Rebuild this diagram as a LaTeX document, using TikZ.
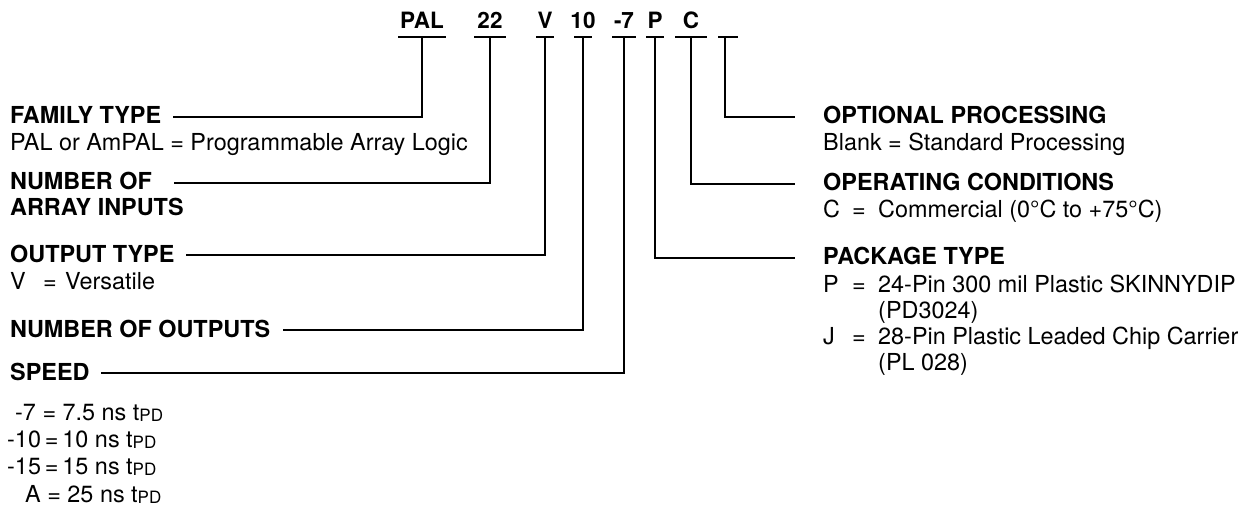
\documentclass[tikz,border=0pt]{standalone}
\usepackage{fontspec}
\setmainfont{TeX Gyre Heros}
\newcommand{\tpd}{t\raisebox{-1.5pt}{\fontsize{17}{17}\selectfont PD}}

\begin{document}
\begin{tikzpicture}[x=1pt,y=-1pt,
  code/.style={font=\fontsize{22.5}{24}\selectfont\bfseries,anchor=base,inner sep=0pt},
  head/.style={font=\fontsize{23.4}{26}\selectfont\bfseries,anchor=base west,inner sep=0pt},
  desc/.style={font=\fontsize{23.4}{26}\selectfont,anchor=base west,inner sep=0pt},
  wire/.style={line width=2.9pt}]
\useasboundingbox (0,0) rectangle (1245,513);

% part number and its bars
\foreach \id/\txt/\x/\w in {pal/PAL/422/24,ins/22/490/16,vt/V/545/9,outs/10/583/9,spd/-7/624/12,pkg/P/655/9,opc/C/691/16}{
  \node[code] (\id) at (\x,29) {\txt};
  \coordinate (\id bar) at (\x,37);
  \draw[wire] ([xshift=-\w pt]\id bar) -- ([xshift=\w pt]\id bar);
}
\coordinate (blankbar) at (725,37);
\draw[wire] (718,37) -- (738,37);

% left labels
\node[head] (family) at (10,124) {FAMILY TYPE};
\node[desc] (familyval) at (10,151) {PAL or AmPAL = Programmable Array Logic};
\node[head] (arrin) at (10,190) {NUMBER OF};
\node[head] (arrin2) at (10,216) {ARRAY INPUTS};
\node[head] (outtype) at (10,262) {OUTPUT TYPE};
\node[desc] (outtypeval) at (10,289) {\makebox[33pt][l]{V}\makebox[22pt][l]{=}Versatile};
\node[head] (numout) at (10,337) {NUMBER OF OUTPUTS};
\node[head] (speed) at (10,380) {SPEED};
\node[desc] (speed7) at (15,420) {-7 = 7.5 ns \tpd};
\node[desc] (speed10) at (7,447) {-10\,=\,10 ns \tpd};
\node[desc] (speed15) at (7,474) {-15\,=\,15 ns \tpd};
\node[desc] (speeda) at (25,502) {A = 25 ns \tpd};

% right labels
\node[head] (optproc) at (823,124) {OPTIONAL PROCESSING};
\node[desc] (optprocval) at (823,151) {Blank = Standard Processing};
\node[head] (opcond) at (823,191) {OPERATING CONDITIONS};
\node[desc] (opcondval) at (823,218) {\makebox[29pt][l]{C}\makebox[26pt][l]{=}Commercial (0°C to +75°C)};
\node[head] (pkgtype) at (823,265) {PACKAGE TYPE};
\node[desc] (pkgp) at (823,292) {\makebox[29pt][l]{P}\makebox[26pt][l]{=}24-Pin 300 mil Plastic SKINNYDIP};
\node[desc] (pkgp2) at (878,318) {(PD3024)};
\node[desc] (pkgj) at (823,344) {\makebox[29pt][l]{J}\makebox[26pt][l]{=}28-Pin Plastic Leaded Chip Carrier};
\node[desc] (pkgj2) at (878,370) {(PL 028)};

% corners
\coordinate (palfoot) at (422,117);
\coordinate (insfoot) at (490,183);
\coordinate (vtfoot) at (545,255);
\coordinate (outsfoot) at (583,330);
\coordinate (spdfoot) at (624,373);
\coordinate (pkgfoot) at (655,258);
\coordinate (opcfoot) at (691,184);
\coordinate (blankfoot) at (725,117);

% connectors
\draw[wire] (palbar) -- (palfoot) -- ([xshift=12pt]family.east |- palfoot);
\draw[wire] (insbar) -- (insfoot) -- ([xshift=22pt]arrin.east |- insfoot);
\draw[wire] (vtbar) -- (vtfoot) -- ([xshift=11pt]outtype.east |- vtfoot);
\draw[wire] (outsbar) -- (outsfoot) -- ([xshift=12pt]numout.east |- outsfoot);
\draw[wire] (spdbar) -- (spdfoot) -- ([xshift=11pt]speed.east |- spdfoot);
\draw[wire] (blankbar) -- (blankfoot) -- ([xshift=-28pt]optproc.west |- blankfoot);
\draw[wire] (opcbar) -- (opcfoot) -- ([xshift=-28pt]opcond.west |- opcfoot);
\draw[wire] (pkgbar) -- (pkgfoot) -- ([xshift=-28pt]pkgtype.west |- pkgfoot);
\end{tikzpicture}
\end{document}
